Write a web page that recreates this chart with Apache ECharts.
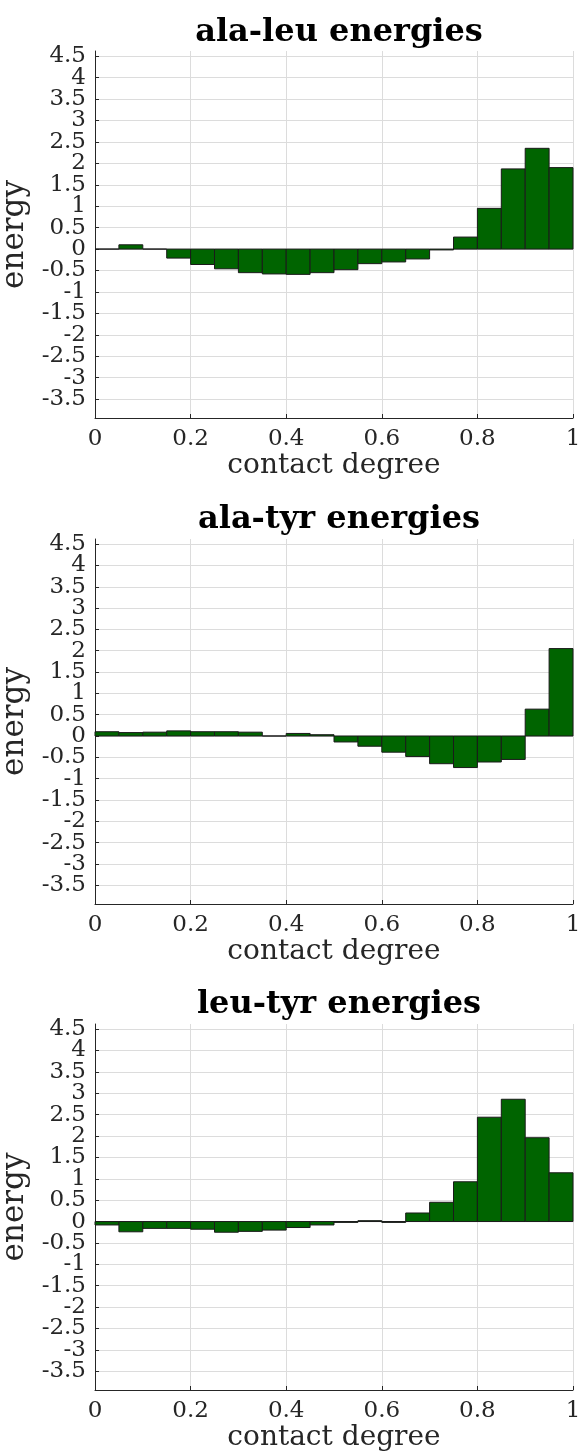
<!DOCTYPE html>
<html>
<head>
<meta charset="utf-8">
<script src="https://cdn.jsdelivr.net/npm/echarts@6/dist/echarts.min.js"></script>
<style>
html,body{margin:0;padding:0;background:#fff;}
#chart{width:579px;height:1452px;}
</style>
</head>
<body>
<div id="chart"></div>
<script>
// Bin left edges of the contact-degree histogram (width 0.05)
const binLefts = [0, 0.05, 0.1, 0.15, 0.2, 0.25, 0.3, 0.35, 0.4, 0.45, 0.5, 0.55, 0.6, 0.65, 0.7, 0.75, 0.8, 0.85, 0.9, 0.95];
const BIN_W = 0.05;

const titles = ['ala-leu energies', 'ala-tyr energies', 'leu-tyr energies'];

const alaLeu = [0, 0.10, 0, -0.21, -0.36, -0.46, -0.55, -0.58, -0.59, -0.55, -0.48, -0.34, -0.30, -0.23, -0.02, 0.28, 0.95, 1.87, 2.35, 1.90];
const alaTyr = [0.10, 0.08, 0.09, 0.12, 0.10, 0.10, 0.09, 0, 0.06, 0.03, -0.14, -0.24, -0.38, -0.48, -0.65, -0.74, -0.61, -0.55, 0.63, 2.05];
const leuTyr = [-0.08, -0.24, -0.16, -0.16, -0.18, -0.25, -0.23, -0.20, -0.14, -0.08, -0.02, 0.02, -0.02, 0.20, 0.45, 0.93, 2.44, 2.86, 1.96, 1.14];

// y tick values (all), split in two label sets so that ECharts does not drop crowded labels
const yTicks = [-3.5, -3, -2.5, -2, -1.5, -1, -0.5, 0, 0.5, 1, 1.5, 2, 2.5, 3, 3.5, 4, 4.5];
const yLabelsHalf = [-3.5, -2.5, -1.5, -0.5, 0.5, 1.5, 2.5, 3.5, 4.5];
const yLabelsInt = [-3, -2, -1, 0, 1, 2, 3, 4];
const xLabel = 'contact degree';
const yLabel = 'energy';

const seriesData = [alaLeu, alaTyr, leuTyr];

const FONT = 'DejaVu Serif';
const TXT = '#262626';
const panels = [
  {top: 51, height: 367, titleTop: 12},
  {top: 539, height: 365, titleTop: 499},
  {top: 1024, height: 366, titleTop: 984}
];
const Y_MIN = -3.94, Y_MAX = 4.62;

const renderBar = function (params, api) {
  const x0 = api.value(0);
  const v = api.value(1);
  const p0 = api.coord([x0, 0]);
  const p1 = api.coord([x0 + BIN_W, v]);
  return {
    type: 'rect',
    shape: {x: p0[0], y: Math.min(p0[1], p1[1]), width: p1[0] - p0[0], height: Math.abs(p1[1] - p0[1])},
    style: {fill: '#006400', stroke: '#1a1a1a', lineWidth: 1}
  };
};

const labelStyle = {fontFamily: FONT, fontSize: 23, color: TXT, margin: 9, showMinLabel: true, showMaxLabel: true};

const yAxes = [];
panels.forEach((p, i) => {
  yAxes.push({
    type: 'value', gridIndex: i, position: 'left', offset: 0, min: Y_MIN, max: Y_MAX,
    name: yLabel, nameLocation: 'middle', nameGap: 54,
    nameTextStyle: {fontFamily: FONT, fontSize: 31, color: TXT},
    axisLine: {show: true, onZero: false, lineStyle: {color: TXT, width: 1}},
    axisTick: {show: true, inside: true, length: 4, customValues: yTicks, lineStyle: {color: TXT}},
    axisLabel: Object.assign({customValues: yLabelsHalf}, labelStyle),
    splitLine: {show: true, lineStyle: {color: '#dcdcdc', width: 1}}
  });
  yAxes.push({
    type: 'value', gridIndex: i, position: 'left', offset: 0, min: Y_MIN, max: Y_MAX,
    axisLine: {show: false},
    axisTick: {show: false, customValues: yLabelsInt},
    axisLabel: Object.assign({customValues: yLabelsInt}, labelStyle),
    splitLine: {show: false}
  });
});

const option = {
  animation: false,
  backgroundColor: '#fff',
  title: panels.map((p, i) => ({
    text: titles[i],
    left: 334, textAlign: 'center', top: p.titleTop,
    textStyle: {fontFamily: FONT, fontWeight: 'bold', fontSize: 32, color: '#000'}
  })),
  grid: panels.map(p => ({left: 95, right: 6, top: p.top, height: p.height, outerBoundsMode: 'none', containLabel: false})),
  xAxis: panels.map((p, i) => ({
    type: 'value', gridIndex: i, min: 0, max: 1, interval: 0.2,
    name: xLabel, nameLocation: 'middle', nameGap: 28,
    nameTextStyle: {fontFamily: FONT, fontSize: 28, color: TXT},
    axisLine: {show: true, onZero: false, lineStyle: {color: TXT, width: 1}},
    axisTick: {show: true, inside: true, length: 4, lineStyle: {color: TXT}},
    axisLabel: {fontFamily: FONT, fontSize: 23, color: TXT, margin: 10, showMinLabel: true, showMaxLabel: true},
    splitLine: {show: true, lineStyle: {color: '#dcdcdc', width: 1}}
  })),
  yAxis: yAxes,
  series: seriesData.map((vals, i) => ({
    type: 'custom', xAxisIndex: i, yAxisIndex: 2 * i,
    renderItem: renderBar,
    encode: {x: 0, y: 1},
    data: binLefts.map((x, k) => [x, vals[k]])
  }))
};

const chart = echarts.init(document.getElementById('chart'), null, {renderer: 'canvas'});
chart.setOption(option);
</script>
</body>
</html>
